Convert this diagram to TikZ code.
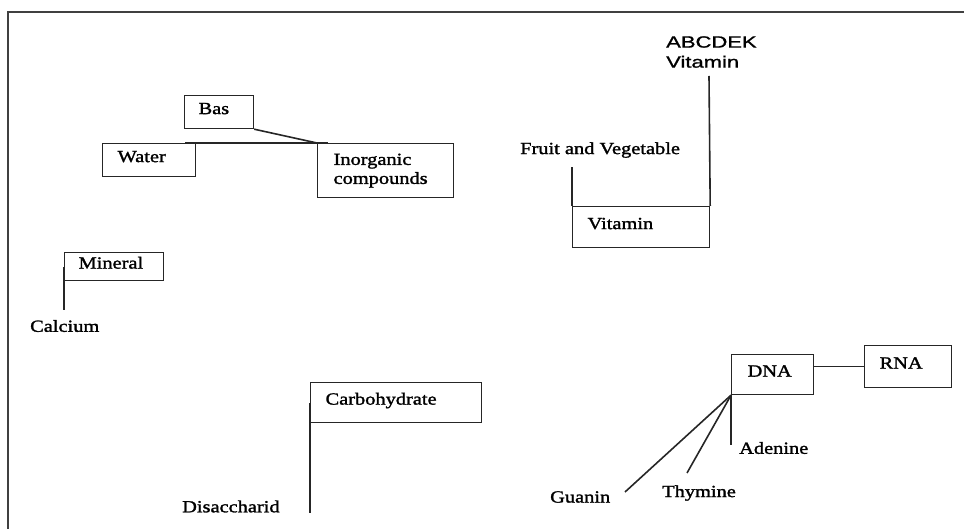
\documentclass[tikz,border=0pt]{standalone}
\usepackage{fontspec}
\setmainfont[FakeStretch=1.2,FakeBold=1.6]{Liberation Serif}
\newfontfamily\arialf[FakeStretch=1.35,FakeBold=1.2]{Liberation Sans}
\usetikzlibrary{calc}
\tikzset{
  box/.style={draw=black!85, line width=1.2pt, rectangle, anchor=north west,
    align=left, inner ysep=0pt, font=\fontsize{17}{19}\selectfont},
  tb/.style={text height=11pt, text depth=7pt},
  lbl/.style={inner sep=0pt, anchor=west, font=\fontsize{17}{19}\selectfont},
  con/.style={draw=black!85, line width=1.6pt},
  frameline/.style={draw=black!75, line width=1.2pt}
}
\begin{document}
\begin{tikzpicture}[x=1pt,y=-1pt]
\useasboundingbox (0,0) rectangle (964,529);
\draw[frameline] (8,529) -- (8,12) -- (964,12);

% boxes
\node[box,tb,minimum height=33,text width=41,inner xsep=14] (bas) at (184,95) {Bas};
\node[box,tb,minimum height=33,text width=63,inner xsep=15] (water) at (102,143) {Water};
\node[box,minimum height=54,text width=104,inner xsep=16] (inorg) at (317,143) {Inorganic\\compounds};
\node[box,tb,minimum height=28,text width=71,inner xsep=14] (mineral) at (64,252) {Mineral};
\node[box,tb,minimum height=40,text width=141,inner xsep=15] (carb) at (310,382) {Carbohydrate};
\node[box,tb,minimum height=41,text width=107,inner xsep=15] (vit) at (572,206) {Vitamin};
\node[box,tb,minimum height=40,text width=50,inner xsep=16] (dna) at (731,354) {DNA};
\node[box,tb,minimum height=42,text width=57,inner xsep=15] (rna) at (864,345) {RNA};

% free labels
\node[inner sep=0pt, anchor=west, align=left, font=\arialf\fontsize{16.3}{20}\selectfont] (abc) at (666,52) {ABCDEK\\Vitamin};
\node[lbl] (fruit) at (520,150) {Fruit and Vegetable};
\node[lbl] (calcium) at (30,326) {Calcium};
\node[lbl] (disacch) at (182,506.5) {Disaccharid};
\node[lbl] (adenine) at (739,448) {Adenine};
\node[lbl] (thymine) at (662,493) {Thymine};
\node[lbl] (guanin) at (550,497) {Guanin};

% free ends
\coordinate (minEnd) at (64,310);
\coordinate (carbEnd) at (310,513);
\coordinate (fvEnd) at (572,167);
\coordinate (abcEnd) at (709,76);
\coordinate (adEnd) at (731,445);
\coordinate (thEnd) at (687,473);
\coordinate (guEnd) at (625,492);

% connectors
\draw[con] (bas.south east) -- (inorg.north west);
\draw[con] ($(water.north east)+(-11,0)$) -- ($(inorg.north west)+(11,0)$);
\draw[con] (mineral.west) -- (minEnd);
\draw[con] (carb.west) -- (carbEnd);
\draw[con] (vit.north west) -- (fvEnd);
\draw[con] (vit.north east) -- (abcEnd);
\draw[con] (rna.west -| dna.east) -- (rna.west);
\draw[con] (dna.south west) -- (adEnd);
\draw[con] (dna.south west) -- (thEnd);
\draw[con] (dna.south west) -- (guEnd);
\end{tikzpicture}
\end{document}
